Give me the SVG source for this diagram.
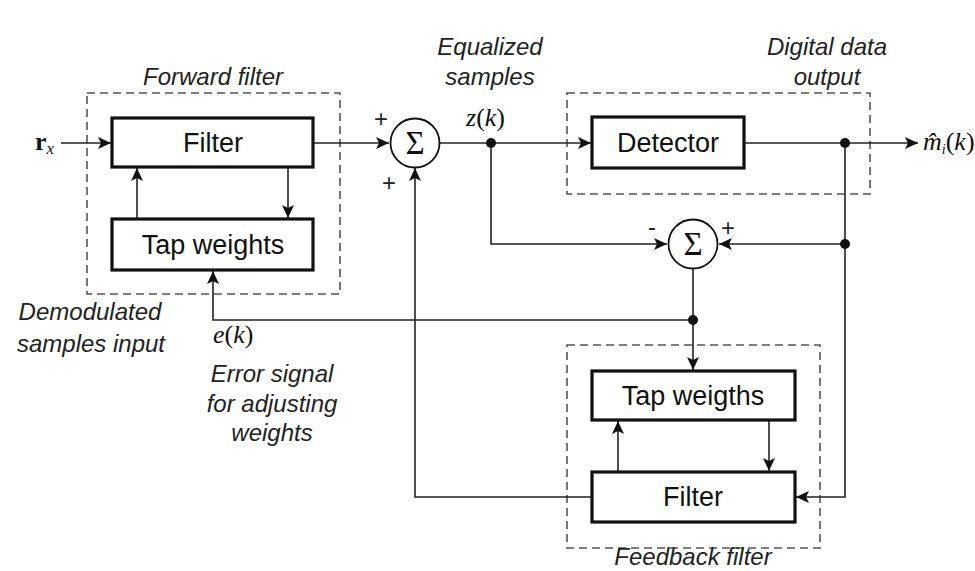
<svg xmlns="http://www.w3.org/2000/svg" width="975" height="571" viewBox="0 0 975 571">
<style>
.blk{fill:#fff;stroke:#111;stroke-width:3.2}
.dash{fill:none;stroke:#555;stroke-width:1.6;stroke-dasharray:8 5}
.sum{fill:#fff;stroke:#111;stroke-width:1.8}
.w{fill:none;stroke:#222;stroke-width:1.6}
.lbl{font-family:"Liberation Sans",Arial,sans-serif;font-size:27px;fill:#111;text-anchor:middle}
.it{font-family:"Liberation Sans",Arial,sans-serif;font-style:italic;font-size:24px;fill:#222;text-anchor:middle}
.math{font-family:"Liberation Serif","Times New Roman",serif;font-size:26px;fill:#111}
.sg{font-family:"Liberation Serif","Times New Roman",serif;font-size:33px;fill:#111;text-anchor:middle}
.pm{font-family:"Liberation Sans",Arial,sans-serif;font-size:24px;fill:#222;text-anchor:middle}
</style>
<defs>
<marker id="ah" markerUnits="userSpaceOnUse" markerWidth="14" markerHeight="12" refX="13" refY="6" orient="auto">
<path d="M0,0 L13,6 L0,12 L3,6 Z" fill="#111"/>
</marker>
</defs>

<g id="forward-filter-box">
<rect class="dash" x="87" y="93" width="253" height="201"/>
<text class="it" x="213" y="85">Forward filter</text>
</g>
<g id="detector-box">
<rect class="dash" x="567" y="93" width="303" height="101"/>
<text class="it" x="827" y="55">Digital data</text>
<text class="it" x="827" y="85">output</text>
</g>
<g id="feedback-filter-box">
<rect class="dash" x="567" y="345" width="253" height="203"/>
<text class="it" x="693" y="565">Feedback filter</text>
</g>

<g id="connectors">
<path class="w" d="M61,143 H111" marker-end="url(#ah)"/>
<path class="w" d="M313,143 H389" marker-end="url(#ah)"/>
<path class="w" d="M440,143 H591" marker-end="url(#ah)"/>
<path class="w" d="M744,143 H918" marker-end="url(#ah)"/>
<path class="w" d="M137,219 V168" marker-end="url(#ah)"/>
<path class="w" d="M288,167 V218" marker-end="url(#ah)"/>
<path class="w" d="M692,320 H213 V271" marker-end="url(#ah)"/>
<path class="w" d="M491,143 V244 H667" marker-end="url(#ah)"/>
<path class="w" d="M845,143 V497 H796" marker-end="url(#ah)"/>
<path class="w" d="M845,244 H719" marker-end="url(#ah)"/>
<path class="w" d="M693,269 V370" marker-end="url(#ah)"/>
<path class="w" d="M618,472 V421" marker-end="url(#ah)"/>
<path class="w" d="M769,420 V471" marker-end="url(#ah)"/>
<path class="w" d="M592,497 H415 V168" marker-end="url(#ah)"/>
<circle cx="491" cy="143" r="5" fill="#111"/>
<circle cx="845" cy="143" r="5" fill="#111"/>
<circle cx="845" cy="244" r="5" fill="#111"/>
<circle cx="693" cy="320" r="5" fill="#111"/>
</g>

<g id="input">
<text class="math" x="35" y="150"><tspan font-weight="bold">r</tspan><tspan font-style="italic" font-size="17" dy="4">x</tspan></text>
</g>
<g id="forward-filter">
<rect class="blk" x="112" y="118" width="201" height="49"/>
<text class="lbl" x="213" y="152">Filter</text>
</g>
<g id="forward-tap-weights">
<rect class="blk" x="112" y="219" width="201" height="51"/>
<text class="lbl" x="213" y="254">Tap weights</text>
</g>
<g id="sum1">
<circle class="sum" cx="415" cy="143" r="24.5"/>
<text class="sg" x="415" y="154">Σ</text>
<text class="pm" x="381" y="127">+</text>
<text class="pm" x="389" y="191">+</text>
</g>
<g id="zk">
<text class="math" x="466" y="126"><tspan font-style="italic">z</tspan>(<tspan font-style="italic">k</tspan>)</text>
<text class="it" x="490" y="55">Equalized</text>
<text class="it" x="490" y="85">samples</text>
</g>
<g id="detector">
<rect class="blk" x="592" y="117" width="152" height="51"/>
<text class="lbl" x="668" y="152">Detector</text>
</g>
<g id="output">
<text class="math" x="923" y="150" font-size="23"><tspan font-style="italic">m̂</tspan><tspan font-style="italic" font-size="14" dy="4">i</tspan><tspan dy="-4">(</tspan><tspan font-style="italic">k</tspan>)</text>
</g>
<g id="sum2">
<circle class="sum" cx="693" cy="244" r="24.5"/>
<text class="sg" x="693" y="255">Σ</text>
<text class="pm" x="652" y="235">-</text>
<text class="pm" x="728" y="236">+</text>
</g>
<g id="feedback-tap-weights">
<rect class="blk" x="592" y="371" width="203" height="49"/>
<text class="lbl" x="693" y="405">Tap weigths</text>
</g>
<g id="feedback-filter">
<rect class="blk" x="592" y="472" width="203" height="50"/>
<text class="lbl" x="693" y="506">Filter</text>
</g>
<g id="labels">
<text class="it" x="90" y="320">Demodulated</text>
<text class="it" x="91" y="352">samples input</text>
<text class="math" x="213" y="343"><tspan font-style="italic">e</tspan>(<tspan font-style="italic">k</tspan>)</text>
<text class="it" x="272" y="382">Error signal</text>
<text class="it" x="272" y="412">for adjusting</text>
<text class="it" x="272" y="441">weights</text>
</g>
</svg>
